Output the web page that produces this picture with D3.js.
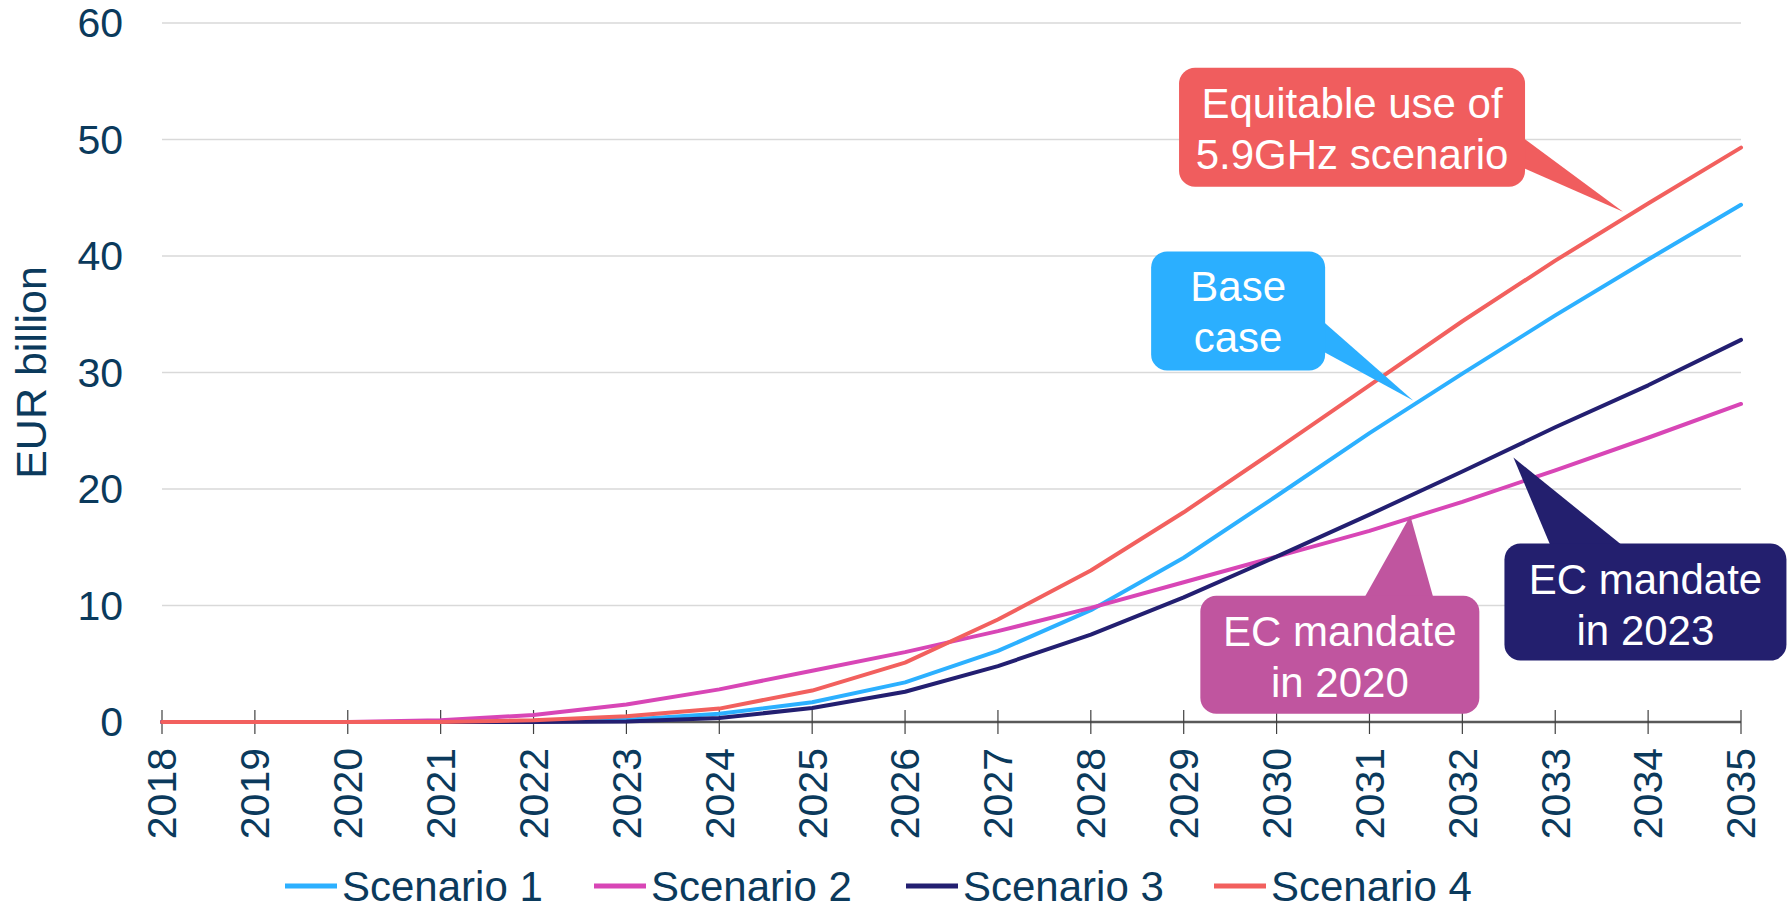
<!DOCTYPE html>
<html>
<head>
<meta charset="utf-8">
<script src="https://cdn.jsdelivr.net/npm/d3@7"></script>
<style>
  body { margin: 0; background: #fff; }
  svg { display: block; font-family: "Liberation Sans", Arial, sans-serif; }
  .tick-lbl { fill: #0b3a5c; font-size: 41px; }
  .callout-txt { fill: #fff; font-size: 42px; text-anchor: middle; }
</style>
</head>
<body>
<svg id="chart"></svg>
<script>
// ---- data ----
const years = d3.range(2018, 2036);
const yTicks = [0, 10, 20, 30, 40, 50, 60];
const seriesNames = ['Scenario 1', 'Scenario 2', 'Scenario 3', 'Scenario 4'];
const seriesColors = ['#2cb0ff', '#d846b6', '#231f71', '#f2605e'];
const scenario1 = [0, 0, 0, 0, 0.05, 0.2, 0.7, 1.7, 3.4, 6.1, 9.6, 14.1, 19.4, 24.8, 29.9, 34.9, 39.7, 44.4];
const scenario2 = [0, 0, 0, 0.15, 0.6, 1.5, 2.8, 4.4, 6.0, 7.8, 9.8, 12.0, 14.2, 16.4, 18.9, 21.6, 24.4, 27.3];
const scenario3 = [0, 0, 0, 0, 0, 0.05, 0.35, 1.2, 2.6, 4.8, 7.5, 10.7, 14.2, 17.8, 21.5, 25.3, 28.9, 32.8];
const scenario4 = [0, 0, 0, 0, 0.15, 0.5, 1.15, 2.7, 5.1, 8.8, 13.0, 18.0, 23.4, 28.9, 34.4, 39.6, 44.5, 49.3];
const seriesValues = [scenario1, scenario2, scenario3, scenario4];

// callouts: tip anchored in data space (year, value)
const callouts = [
  { lines: ['Equitable use of', '5.9GHz scenario'], fill: '#f05d5e', year: 2033.73, value: 43.8,
    box: [-444, -144, 346, 119], base: ['right', -74, -44] },
  { lines: ['Base', 'case'], fill: '#2bafff', year: 2031.47, value: 27.6,
    box: [-262, -149, 174, 119], base: ['right', -79, -49] },
  { lines: ['EC mandate', 'in 2020'], fill: '#c0559f', year: 2031.44, value: 17.7,
    box: [-210, 80, 279, 118], base: ['top', -46, 23] },
  { lines: ['EC mandate', 'in 2023'], fill: '#231f6e', year: 2032.55, value: 22.7,
    box: [-9, 86, 282, 117], base: ['top', 37, 109] }
];

// ---- layout ----
const totalW = 1791, totalH = 910;
const mg = { top: 23, right: 50, bottom: 188, left: 162 };
const W = totalW - mg.left - mg.right;
const H = totalH - mg.top - mg.bottom;

const svg = d3.select('#chart').attr('width', totalW).attr('height', totalH);
const g = svg.append('g').attr('transform', `translate(${mg.left},${mg.top})`);

const x = d3.scaleLinear().domain([2018, 2035]).range([0, W]);
const y = d3.scaleLinear().domain([0, 60]).range([H, 0]);

// gridlines
g.selectAll('.grid').data(yTicks.filter(d => d > 0)).join('line')
  .attr('x1', 0).attr('x2', W)
  .attr('y1', d => y(d)).attr('y2', d => y(d))
  .attr('stroke', '#d9d9d9').attr('stroke-width', 1.5);

// y tick labels
g.selectAll('.ylbl').data(yTicks).join('text')
  .attr('class', 'tick-lbl')
  .attr('x', -39).attr('y', d => y(d)).attr('dy', '0.35em')
  .attr('text-anchor', 'end').text(d => d);

// x axis
g.append('line').attr('x1', 0).attr('x2', W).attr('y1', H).attr('y2', H)
  .attr('stroke', '#595959').attr('stroke-width', 2.5);
g.selectAll('.xtick').data(years).join('line')
  .attr('x1', d => x(d)).attr('x2', d => x(d))
  .attr('y1', H - 12).attr('y2', H + 12)
  .attr('stroke', '#404040').attr('stroke-width', 1.2);
g.selectAll('.xlbl').data(years).join('text')
  .attr('class', 'tick-lbl')
  .attr('transform', d => `translate(${x(d)},${H + 26}) rotate(-90)`)
  .attr('dy', '0.35em').attr('text-anchor', 'end').text(d => d);

// y axis title
svg.append('text')
  .attr('transform', `translate(31,${mg.top + H / 2}) rotate(-90)`)
  .attr('dy', '0.35em').attr('text-anchor', 'middle')
  .attr('fill', '#0b3a5c').attr('font-size', 43).text('EUR billion');

// lines
const line = d3.line().x((d, i) => x(years[i])).y(d => y(d));
seriesValues.forEach((vals, si) => {
  g.append('path').datum(vals)
    .attr('d', line)
    .attr('fill', 'none')
    .attr('stroke', seriesColors[si])
    .attr('stroke-width', 4)
    .attr('stroke-linejoin', 'round')
    .attr('stroke-linecap', 'round');
});

// callouts
callouts.forEach((c) => {
  const tx = x(c.year), ty = y(c.value);
  const [bx, by, bw, bh] = c.box;
  const cg = g.append('g').attr('transform', `translate(${tx},${ty})`);
  let pts;
  if (c.base[0] === 'right') {
    pts = [[bx + bw - 2, c.base[1]], [bx + bw - 2, c.base[2]], [0, 0]];
  } else {
    pts = [[c.base[1], by + 2], [c.base[2], by + 2], [0, 0]];
  }
  cg.append('path').attr('d', d3.line()(pts) + 'Z').attr('fill', c.fill);
  cg.append('rect').attr('x', bx).attr('y', by).attr('width', bw).attr('height', bh)
    .attr('rx', 16).attr('fill', c.fill);
  c.lines.forEach((t, i) => {
    cg.append('text').attr('class', 'callout-txt')
      .attr('x', bx + bw / 2).attr('y', by + 50 + i * 51).text(t);
  });
});

// legend
const legendX = [285, 594, 906, 1214];
const legendY = 886;
const lg = svg.append('g');
seriesNames.forEach((name, i) => {
  lg.append('line')
    .attr('x1', legendX[i]).attr('x2', legendX[i] + 52)
    .attr('y1', legendY).attr('y2', legendY)
    .attr('stroke', seriesColors[i]).attr('stroke-width', 5);
  lg.append('text')
    .attr('x', legendX[i] + 57).attr('y', legendY).attr('dy', '0.35em')
    .attr('fill', '#0b3a5c').attr('font-size', 42).text(name);
});
</script>
</body>
</html>
